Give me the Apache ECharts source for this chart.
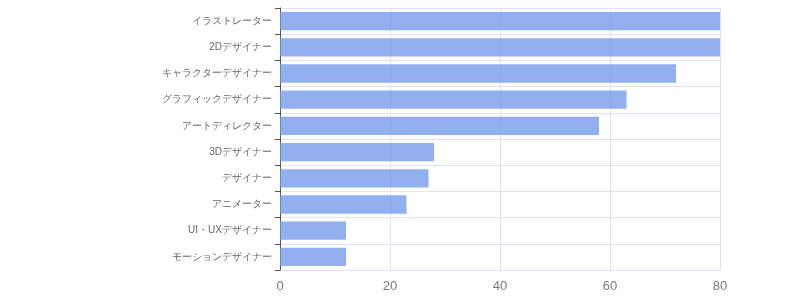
<!DOCTYPE html>
<html><head><meta charset="utf-8">
<script src="https://cdn.jsdelivr.net/npm/echarts@6/dist/echarts.min.js"></script>
<style>html,body{margin:0;padding:0;background:#fff}#c{width:800px;height:300px}</style>
</head><body><div id="c"></div>
<script>
const categories = ['イラストレーター','2Dデザイナー','キャラクターデザイナー','グラフィックデザイナー','アートディレクター','3Dデザイナー','デザイナー','アニメーター','UI・UXデザイナー','モーションデザイナー'];
const values = [80, 80, 72, 63, 58, 28, 27, 23, 12, 12];
const xTicks = [0, 20, 40, 60, 80];

const chart = echarts.init(document.getElementById('c'), null, {renderer:'canvas'});
chart.setOption({
  animation:false,
  grid:{left:280, right:80, top:8, bottom:30, containLabel:false},
  xAxis:{type:'value', min:xTicks[0], max:xTicks[xTicks.length-1], interval:20,
    axisLine:{show:false}, axisTick:{show:false},
    axisLabel:{color:'#7a7a7a', fontSize:13, margin:10, fontFamily:'sans-serif'},
    splitLine:{show:true, lineStyle:{color:'#dfe4f2', width:1}}},
  yAxis:{type:'category', data:categories, inverse:true,
    axisLine:{show:true, lineStyle:{color:'#555', width:1}},
    axisTick:{show:true, length:5, lineStyle:{color:'#555'}},
    axisLabel:{color:'#666', fontSize:10, margin:8, fontFamily:'sans-serif'},
    splitLine:{show:true, lineStyle:{color:'#dfe4f2', width:1}}},
  series:[{type:'bar', data:values, barWidth:'70%',
    itemStyle:{color:'rgba(110,150,235,0.75)'}}]
});
</script></body></html>
